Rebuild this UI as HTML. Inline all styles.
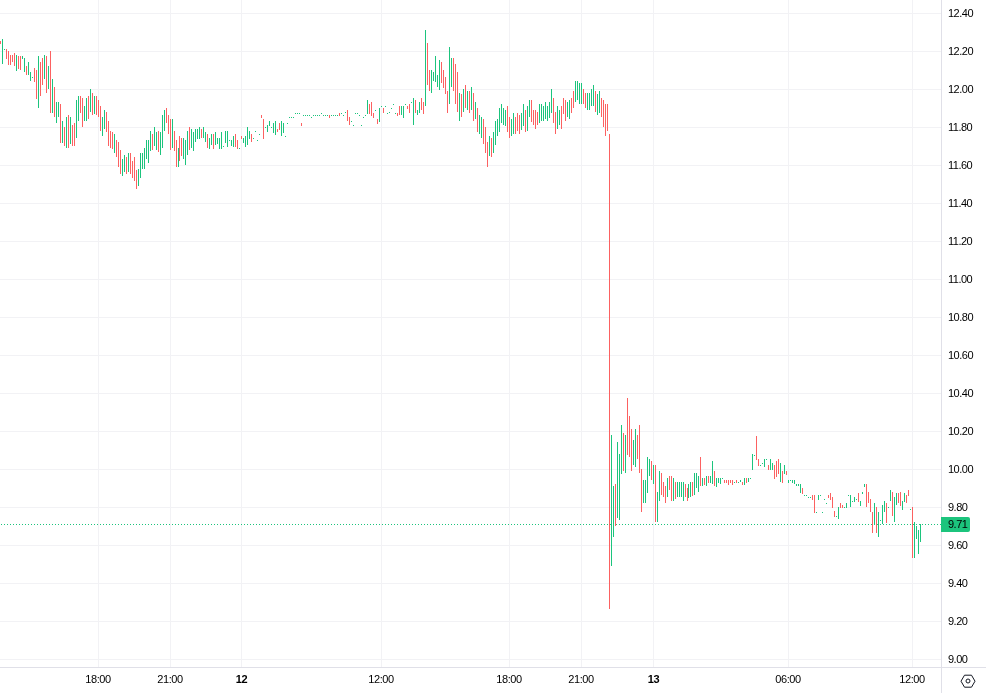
<!DOCTYPE html>
<html><head><meta charset="utf-8"><title>Chart</title>
<style>
html,body{margin:0;padding:0;background:#fff;width:986px;height:693px;overflow:hidden}
svg{display:block}
.ov{position:absolute;left:0;top:0;will-change:transform}
text{font-family:"Liberation Sans",Arial,sans-serif;font-size:11px;fill:#000}
.pa text{letter-spacing:-0.5px}
.ta text{text-anchor:middle;letter-spacing:-0.45px}
.ta text.b{font-weight:bold;letter-spacing:-0.3px}
</style></head>
<body>
<svg width="986" height="693" viewBox="0 0 986 693">
<rect width="986" height="693" fill="#fff"/>
<path d="M0 13.5H941M0 51.5H941M0 89.5H941M0 127.5H941M0 165.5H941M0 203.5H941M0 241.5H941M0 279.5H941M0 317.5H941M0 355.5H941M0 393.5H941M0 431.5H941M0 469.5H941M0 507.5H941M0 545.5H941M0 583.5H941M0 621.5H941M0 659.5H941M98.5 0V667M170.5 0V667M241.5 0V667M381.5 0V667M509.5 0V667M581.5 0V667M653.5 0V667M788.5 0V667M912.5 0V667" stroke="#f2f2f5" stroke-width="1" fill="none" shape-rendering="crispEdges"/>
<g shape-rendering="crispEdges">
<path d="M2 39h1v25h-1zM4 49h1v1h-1zM16 55h1v16h-1zM22 56h1v3h-1zM24 58h1v14h-1zM28 62h1v13h-1zM30 72h1v9h-1zM32 77h1v1h-1zM38 56h1v52h-1zM44 55h1v24h-1zM48 66h1v23h-1zM52 79h1v34h-1zM56 102h1v21h-1zM58 102h1v15h-1zM62 121h1v22h-1zM66 117h1v31h-1zM70 117h1v27h-1zM76 100h1v38h-1zM78 96h1v25h-1zM84 106h1v15h-1zM86 98h1v23h-1zM90 89h1v23h-1zM94 96h1v18h-1zM102 117h1v19h-1zM104 110h1v19h-1zM114 134h1v19h-1zM122 159h1v17h-1zM124 155h1v17h-1zM128 153h1v19h-1zM138 169h1v17h-1zM140 153h1v25h-1zM142 153h1v16h-1zM144 148h1v21h-1zM146 140h1v19h-1zM148 140h1v23h-1zM150 131h1v20h-1zM154 127h1v19h-1zM156 132h1v18h-1zM160 132h1v23h-1zM162 115h1v33h-1zM164 110h1v21h-1zM172 119h1v29h-1zM178 148h1v19h-1zM183 138h1v21h-1zM185 140h1v25h-1zM187 131h1v24h-1zM191 129h1v19h-1zM193 132h1v19h-1zM195 129h1v13h-1zM197 129h1v10h-1zM199 127h1v12h-1zM203 127h1v11h-1zM205 132h1v10h-1zM209 138h1v11h-1zM211 134h1v11h-1zM215 132h1v13h-1zM217 138h1v6h-1zM219 138h1v11h-1zM221 132h1v17h-1zM223 146h1v1h-1zM225 131h1v12h-1zM227 131h1v16h-1zM229 140h1v1h-1zM231 140h1v6h-1zM233 136h1v11h-1zM239 148h1v1h-1zM243 138h1v5h-1zM245 136h1v11h-1zM247 127h1v18h-1zM249 131h1v8h-1zM253 138h1v1h-1zM255 131h1v1h-1zM257 140h1v1h-1zM259 134h1v1h-1zM265 127h1v1h-1zM267 125h1v7h-1zM269 121h1v5h-1zM271 127h1v1h-1zM273 123h1v10h-1zM275 121h1v14h-1zM281 121h1v15h-1zM283 123h1v10h-1zM285 136h1v1h-1zM287 123h1v1h-1zM289 117h1v1h-1zM291 117h1v1h-1zM293 117h1v1h-1zM295 113h1v1h-1zM297 113h1v1h-1zM299 113h1v1h-1zM303 115h1v1h-1zM305 115h1v1h-1zM307 115h1v1h-1zM309 115h1v1h-1zM311 117h1v1h-1zM313 115h1v1h-1zM315 115h1v1h-1zM317 115h1v1h-1zM319 115h1v1h-1zM321 113h1v1h-1zM323 115h1v1h-1zM325 115h1v1h-1zM327 115h1v1h-1zM331 115h1v1h-1zM333 115h1v1h-1zM335 115h1v1h-1zM337 115h1v1h-1zM341 113h1v1h-1zM343 115h1v1h-1zM345 112h1v1h-1zM351 121h1v1h-1zM353 125h1v1h-1zM355 113h1v1h-1zM357 113h1v1h-1zM359 115h1v1h-1zM361 125h1v1h-1zM363 117h1v1h-1zM365 115h1v1h-1zM367 100h1v14h-1zM375 110h1v1h-1zM379 108h1v14h-1zM381 106h1v1h-1zM385 106h1v1h-1zM387 113h1v1h-1zM389 112h1v1h-1zM391 108h1v1h-1zM393 104h1v1h-1zM395 113h1v1h-1zM401 106h1v9h-1zM403 106h1v12h-1zM405 104h1v1h-1zM411 102h1v1h-1zM413 98h1v27h-1zM417 110h1v5h-1zM419 102h1v11h-1zM425 30h1v76h-1zM431 70h1v23h-1zM433 72h1v9h-1zM435 56h1v26h-1zM437 75h1v12h-1zM439 60h1v30h-1zM449 47h1v57h-1zM451 58h1v29h-1zM459 93h1v28h-1zM463 89h1v23h-1zM467 91h1v19h-1zM471 87h1v23h-1zM475 102h1v17h-1zM479 115h1v19h-1zM481 117h1v21h-1zM489 136h1v20h-1zM493 132h1v21h-1zM495 121h1v24h-1zM497 119h1v17h-1zM499 108h1v24h-1zM501 104h1v19h-1zM503 108h1v17h-1zM505 110h1v16h-1zM511 119h1v17h-1zM513 113h1v21h-1zM521 113h1v17h-1zM523 104h1v22h-1zM527 106h1v25h-1zM529 100h1v17h-1zM539 104h1v19h-1zM541 104h1v17h-1zM543 106h1v15h-1zM545 102h1v17h-1zM547 106h1v15h-1zM549 102h1v16h-1zM551 89h1v24h-1zM557 106h1v23h-1zM559 110h1v15h-1zM567 102h1v15h-1zM569 100h1v19h-1zM575 81h1v21h-1zM577 81h1v19h-1zM579 83h1v21h-1zM581 83h1v21h-1zM587 93h1v17h-1zM589 93h1v17h-1zM591 89h1v17h-1zM593 85h1v21h-1zM597 94h1v21h-1zM599 91h1v22h-1zM611 435h1v131h-1zM613 486h1v51h-1zM617 442h1v76h-1zM619 454h1v66h-1zM621 425h1v49h-1zM625 435h1v38h-1zM633 440h1v25h-1zM635 429h1v38h-1zM643 480h1v23h-1zM645 480h1v23h-1zM647 457h1v36h-1zM649 459h1v17h-1zM653 465h1v19h-1zM657 492h1v30h-1zM659 471h1v30h-1zM667 478h1v19h-1zM673 478h1v23h-1zM677 482h1v15h-1zM679 482h1v15h-1zM681 482h1v15h-1zM683 482h1v19h-1zM688 484h1v14h-1zM690 482h1v15h-1zM694 473h1v22h-1zM696 473h1v15h-1zM698 476h1v16h-1zM702 478h1v8h-1zM706 476h1v10h-1zM710 476h1v7h-1zM712 461h1v23h-1zM716 478h1v9h-1zM718 478h1v5h-1zM720 478h1v6h-1zM722 478h1v1h-1zM734 482h1v1h-1zM738 482h1v1h-1zM740 480h1v2h-1zM744 478h1v7h-1zM748 478h1v4h-1zM750 478h1v1h-1zM752 454h1v16h-1zM754 455h1v1h-1zM760 465h1v1h-1zM762 463h1v1h-1zM764 459h1v8h-1zM766 459h1v1h-1zM770 459h1v11h-1zM772 463h1v7h-1zM780 463h1v19h-1zM784 465h1v9h-1zM788 480h1v3h-1zM790 480h1v1h-1zM792 480h1v3h-1zM794 480h1v4h-1zM796 484h1v2h-1zM798 484h1v2h-1zM800 484h1v9h-1zM804 495h1v1h-1zM806 495h1v1h-1zM808 497h1v1h-1zM810 497h1v1h-1zM816 512h1v1h-1zM818 495h1v5h-1zM820 495h1v1h-1zM822 512h1v1h-1zM824 499h1v1h-1zM826 503h1v1h-1zM836 516h1v1h-1zM838 507h1v12h-1zM844 507h1v1h-1zM846 503h1v5h-1zM848 495h1v1h-1zM850 495h1v12h-1zM852 501h1v1h-1zM854 497h1v5h-1zM856 499h1v1h-1zM860 501h1v5h-1zM862 492h1v2h-1zM864 484h1v3h-1zM874 503h1v22h-1zM878 512h1v25h-1zM880 520h1v1h-1zM882 505h1v19h-1zM884 501h1v11h-1zM888 507h1v1h-1zM890 490h1v11h-1zM894 497h1v25h-1zM896 493h1v12h-1zM902 501h1v9h-1zM904 493h1v9h-1zM910 509h1v1h-1zM914 522h1v36h-1zM916 526h1v13h-1zM918 530h1v24h-1zM920 524h1v18h-1z" fill="#1cc47d"/>
<path d="M0 41h1v3h-1zM6 49h1v10h-1zM8 51h1v14h-1zM10 55h1v10h-1zM12 55h1v7h-1zM14 53h1v13h-1zM18 56h1v13h-1zM20 56h1v14h-1zM26 66h1v9h-1zM34 68h1v14h-1zM36 70h1v29h-1zM40 62h1v34h-1zM42 58h1v27h-1zM46 56h1v37h-1zM50 51h1v62h-1zM54 87h1v30h-1zM60 104h1v39h-1zM64 127h1v19h-1zM68 115h1v33h-1zM72 125h1v21h-1zM74 123h1v23h-1zM80 96h1v17h-1zM82 98h1v29h-1zM88 96h1v23h-1zM92 93h1v22h-1zM96 96h1v19h-1zM98 100h1v17h-1zM100 106h1v25h-1zM106 112h1v20h-1zM108 121h1v25h-1zM110 131h1v17h-1zM112 132h1v17h-1zM116 140h1v17h-1zM118 142h1v25h-1zM120 150h1v24h-1zM126 157h1v17h-1zM130 153h1v21h-1zM132 161h1v17h-1zM134 157h1v24h-1zM136 170h1v19h-1zM152 134h1v16h-1zM158 131h1v21h-1zM166 108h1v15h-1zM168 115h1v19h-1zM170 119h1v31h-1zM174 131h1v20h-1zM176 140h1v27h-1zM179 136h1v25h-1zM181 138h1v18h-1zM189 127h1v23h-1zM201 129h1v9h-1zM207 134h1v14h-1zM213 134h1v15h-1zM235 134h1v13h-1zM237 140h1v9h-1zM241 136h1v3h-1zM251 134h1v8h-1zM261 115h1v3h-1zM263 119h1v20h-1zM277 129h1v3h-1zM279 123h1v7h-1zM301 123h1v3h-1zM329 115h1v3h-1zM339 113h1v3h-1zM347 110h1v11h-1zM349 117h1v8h-1zM369 104h1v10h-1zM371 102h1v14h-1zM373 113h1v5h-1zM377 119h1v5h-1zM383 108h1v5h-1zM397 113h1v3h-1zM399 106h1v9h-1zM407 106h1v3h-1zM409 104h1v9h-1zM415 100h1v13h-1zM421 98h1v12h-1zM423 102h1v12h-1zM427 43h1v42h-1zM429 70h1v21h-1zM441 62h1v21h-1zM443 70h1v18h-1zM445 77h1v17h-1zM447 91h1v22h-1zM453 58h1v33h-1zM455 64h1v40h-1zM457 72h1v40h-1zM461 94h1v23h-1zM465 85h1v23h-1zM469 91h1v22h-1zM473 93h1v28h-1zM477 108h1v24h-1zM483 119h1v25h-1zM485 127h1v26h-1zM487 142h1v25h-1zM491 138h1v19h-1zM507 106h1v26h-1zM509 117h1v21h-1zM515 117h1v17h-1zM517 113h1v18h-1zM519 115h1v19h-1zM525 110h1v22h-1zM531 100h1v22h-1zM533 110h1v15h-1zM535 110h1v19h-1zM537 112h1v13h-1zM553 98h1v25h-1zM555 112h1v22h-1zM561 106h1v23h-1zM563 98h1v16h-1zM565 100h1v21h-1zM571 98h1v15h-1zM573 91h1v17h-1zM583 89h1v15h-1zM585 93h1v15h-1zM595 91h1v21h-1zM601 98h1v19h-1zM603 100h1v27h-1zM605 104h1v32h-1zM607 104h1v27h-1zM609 134h1v475h-1zM615 484h1v42h-1zM623 433h1v38h-1zM627 398h1v57h-1zM629 416h1v41h-1zM631 429h1v42h-1zM637 435h1v24h-1zM639 425h1v48h-1zM641 469h1v43h-1zM651 461h1v19h-1zM655 465h1v57h-1zM661 473h1v22h-1zM663 482h1v15h-1zM665 486h1v17h-1zM669 476h1v14h-1zM671 476h1v25h-1zM675 482h1v17h-1zM685 484h1v13h-1zM687 488h1v13h-1zM692 482h1v14h-1zM700 457h1v29h-1zM704 478h1v7h-1zM708 476h1v7h-1zM714 471h1v15h-1zM724 480h1v3h-1zM726 480h1v3h-1zM728 480h1v5h-1zM730 480h1v3h-1zM732 480h1v5h-1zM736 480h1v3h-1zM742 482h1v3h-1zM746 478h1v5h-1zM756 436h1v24h-1zM758 459h1v7h-1zM768 465h1v5h-1zM774 465h1v14h-1zM776 461h1v16h-1zM778 459h1v15h-1zM782 471h1v12h-1zM786 471h1v4h-1zM802 488h1v6h-1zM812 495h1v5h-1zM814 495h1v18h-1zM828 495h1v3h-1zM830 493h1v7h-1zM832 497h1v11h-1zM834 511h1v6h-1zM840 503h1v5h-1zM842 505h1v3h-1zM858 493h1v9h-1zM866 484h1v23h-1zM868 492h1v11h-1zM870 499h1v13h-1zM872 512h1v21h-1zM876 507h1v26h-1zM886 503h1v20h-1zM892 492h1v24h-1zM898 493h1v10h-1zM900 492h1v14h-1zM906 495h1v8h-1zM908 490h1v6h-1zM912 507h1v51h-1z" fill="#fc6161"/>
</g>
<line x1="1" y1="524.5" x2="941" y2="524.5" stroke="#1cc47d" stroke-width="1" stroke-dasharray="1 2" shape-rendering="crispEdges"/>
<path d="M941.5 0V693M0 667.5H986" stroke="#e0e0e8" stroke-width="1" fill="none" shape-rendering="crispEdges"/>
<path d="M941 517h27a2 2 0 0 1 2 2v11a2 2 0 0 1-2 2h-27z" fill="#1cc47d"/>
<g fill="none" stroke="#131722" stroke-width="1">
<path d="M964.5 675.2h7l3.5 6-3.5 6h-7l-3.5-6z"/>
<circle cx="968" cy="681" r="2"/>
</g>
</svg>
<svg class="ov" width="986" height="693" viewBox="0 0 986 693">
<g class="pa">
<text x="948" y="17">12.40</text><text x="948" y="55">12.20</text><text x="948" y="93">12.00</text><text x="948" y="131">11.80</text><text x="948" y="169">11.60</text><text x="948" y="207">11.40</text><text x="948" y="245">11.20</text><text x="948" y="283">11.00</text><text x="948" y="321">10.80</text><text x="948" y="359">10.60</text><text x="948" y="397">10.40</text><text x="948" y="435">10.20</text><text x="948" y="473">10.00</text><text x="948" y="511">9.80</text><text x="948" y="549">9.60</text><text x="948" y="587">9.40</text><text x="948" y="625">9.20</text><text x="948" y="663">9.00</text>
</g>
<g class="ta">
<text x="98" y="683">18:00</text><text x="170" y="683">21:00</text><text x="241.5" y="683" class="b">12</text><text x="381" y="683">12:00</text><text x="509" y="683">18:00</text><text x="581" y="683">21:00</text><text x="653.5" y="683" class="b">13</text><text x="788" y="683">06:00</text><text x="912" y="683">12:00</text>
</g>
<text x="948" y="528" style="letter-spacing:-0.5px;fill:#000">9.71</text>
</svg>
</body></html>
